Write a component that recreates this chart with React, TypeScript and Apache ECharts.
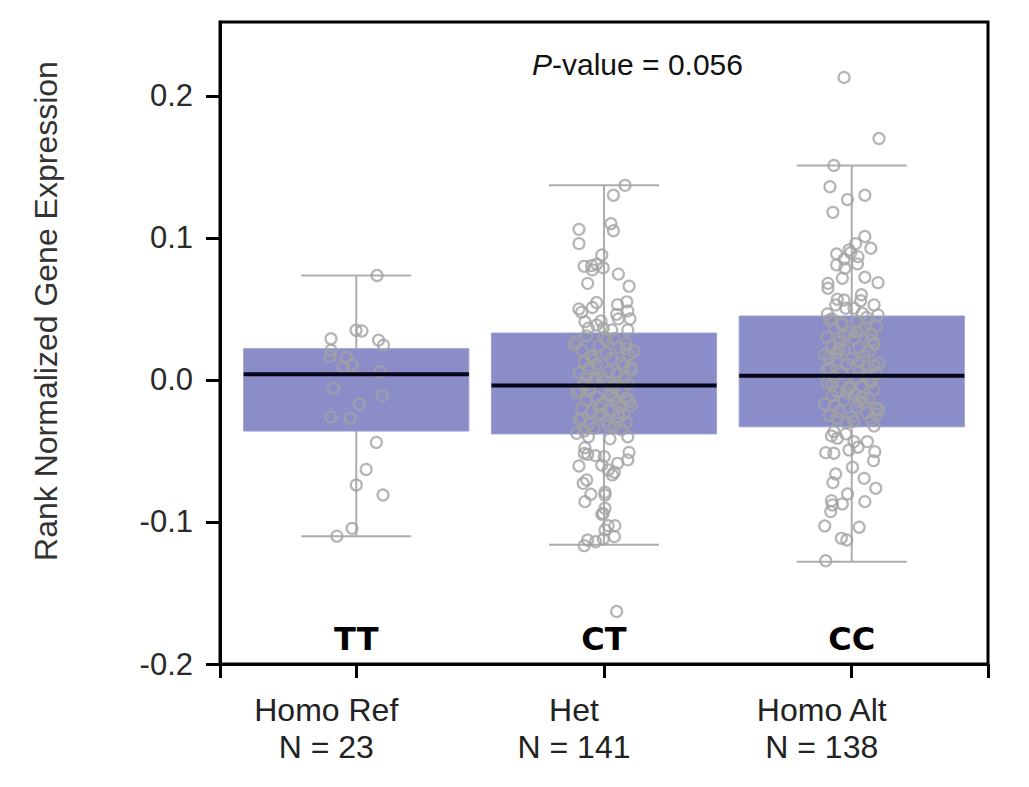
import React, { useEffect, useRef } from 'react';
import * as echarts from 'echarts';

// ---- data ----
const categories = ['Homo Ref', 'Het', 'Homo Alt'];
const counts = [23, 141, 138];
const genotypes = ['TT', 'CT', 'CC'];
const yTicks = [-0.2, -0.1, 0, 0.1, 0.2];
const pValueText = '0.056';

const whiskerLow = [-0.110, -0.116, -0.128];
const q1 = [-0.036, -0.038, -0.033];
const median = [0.004, -0.004, 0.003];
const q3 = [0.022, 0.033, 0.045];
const whiskerHigh = [0.0735, 0.137, 0.151];

const homoRefValues = [
  0.0735, 0.035, 0.0345, 0.029, 0.028, 0.0245, 0.021, 0.0165, 0.016, 0.0105, 0.006, -0.006,
  -0.011, -0.017, -0.026, -0.027, -0.044, -0.063, -0.074, -0.081, -0.1045, -0.110, 0.009,
];
const homoRefJitter = [
  0.084, -0.001, 0.023, -0.102, 0.090, 0.110, -0.102, -0.105, -0.040, -0.017, 0.097, -0.092,
  0.104, 0.012, -0.102, -0.024, 0.081, 0.040, 0.000, 0.108, -0.017, -0.078, -0.053,
];

const hetValues = [
  0.137, 0.130, 0.110, 0.105, 0.106, 0.096, 0.088, 0.080, 0.0805, 0.0815, 0.079, 0.0775, 0.0745,
  0.068, 0.066, 0.0545, 0.055, 0.053, 0.050, 0.0477, 0.051, 0.0486, 0.0462, 0.043, 0.041, 0.0415,
  0.043, 0.0387, 0.0364, 0.0352, 0.0352, 0.0364,
  -0.0376, -0.040, -0.0415, -0.040, -0.0477, -0.0517, -0.0524, -0.0533, -0.054, -0.051, -0.0563,
  -0.0587, -0.060, -0.0606, -0.0634, -0.065, -0.0669, -0.0704, -0.0728, -0.0791, -0.0805, -0.081,
  -0.0857, -0.0904, -0.094, -0.0946, -0.1026, -0.1026, -0.1056, -0.1103, -0.112, -0.1127, -0.1167,
  -0.1139, -0.163,
  0.031, 0.029, 0.027, 0.026, 0.024, 0.023, 0.021, 0.019, 0.018, 0.017, 0.015, 0.013, 0.012, 0.011,
  0.009, 0.008, 0.006, 0.005, 0.004, 0.002, 0.001, 0.000, -0.001, -0.003, -0.004, -0.005, -0.006,
  -0.008, -0.009, -0.010, -0.012, -0.013, -0.014, -0.016, -0.017, -0.018, -0.020, -0.021, -0.022,
  -0.024, -0.025, -0.026, -0.028, -0.029, -0.030, -0.031, -0.033, -0.034, -0.035, -0.036, 0.030,
  0.025, 0.020, 0.014, 0.010, 0.003, -0.002, -0.007, -0.011, -0.015, -0.019, -0.023, -0.027, -0.032,
  0.016, 0.007, -0.003, -0.013, -0.024, 0.022, -0.008, 0.028, -0.018, 0.001,
];
const hetJitter = [
  0.085, 0.038, 0.028, 0.038, -0.101, -0.101, -0.009, -0.080, -0.050, -0.030, -0.003, -0.047, 0.058,
  -0.066, 0.101, -0.030, 0.092, 0.055, -0.101, -0.090, -0.047, 0.096, 0.051, 0.105, -0.077, -0.012,
  0.058, -0.030, -0.063, 0.096, 0.031, -0.003,
  -0.110, -0.063, 0.024, 0.096, -0.077, -0.080, -0.066, -0.034, 0.001, 0.101, 0.096, 0.055, -0.009,
  -0.101, 0.017, 0.042, 0.034, -0.070, -0.084, 0.004, -0.053, 0.004, -0.077, 0.004, -0.003, -0.009,
  0.017, 0.044, 0.004, 0.042, -0.003, -0.066, -0.080, -0.034, 0.051,
  -0.07, 0.04, -0.11, 0.09, -0.02, 0.06, -0.09, 0.01, 0.10, -0.05, 0.03, -0.08, 0.07, -0.03, 0.11,
  -0.06, 0.02, -0.10, 0.05, -0.01, 0.08, -0.04, 0.00, 0.10, -0.08, 0.04, -0.06, 0.07, -0.11, 0.02,
  -0.03, 0.09, -0.07, 0.05, -0.01, 0.11, -0.09, 0.03, -0.05, 0.08, -0.02, 0.06, -0.10, 0.01, 0.09,
  -0.06, 0.04, -0.04, 0.07, -0.08, 0.00, -0.12, 0.12, -0.04, 0.08, -0.07, 0.05, -0.10, 0.03, 0.10,
  -0.02, 0.06, -0.09, 0.02, -0.05, 0.11, -0.08, 0.04, -0.01, 0.09, -0.06, 0.01, 0.07, -0.03,
];

const homoAltValues = [
  0.213, 0.170, 0.151, 0.136, 0.127, 0.130, 0.118, 0.101, 0.096, 0.0915, 0.0927, 0.0887, 0.0896,
  0.0868, 0.085, 0.081, 0.0817, 0.0786, 0.0716, 0.0723, 0.0685, 0.068, 0.0646, 0.060, 0.0568,
  0.0563, 0.0558, 0.0528, 0.0528, 0.0505, 0.0505, 0.0465, 0.0469, 0.0458,
  -0.0324, -0.0364, -0.0394, -0.041, -0.038, -0.0434, -0.0434, -0.0512, -0.0516, -0.0493, -0.0474,
  -0.0505, -0.0568, -0.0615, -0.0662, -0.0723, -0.0693, -0.0763, -0.0803, -0.085, -0.088, -0.0873,
  -0.0857, -0.0927, -0.1028, -0.1037, -0.1115, -0.1127, -0.1273,
  0.044, 0.042, 0.041, 0.039, 0.038, 0.036, 0.035, 0.033, 0.032, 0.030, 0.029, 0.027, 0.026, 0.024,
  0.023, 0.021, 0.020, 0.018, 0.017, 0.015, 0.014, 0.012, 0.011, 0.009, 0.008, 0.006, 0.005, 0.004,
  0.002, 0.001, -0.001, -0.002, -0.004, -0.005, -0.007, -0.008, -0.010, -0.011, -0.013, -0.014,
  -0.016, -0.017, -0.019, -0.020, -0.022, -0.023, -0.025, -0.026, -0.028, -0.030, 0.043, 0.037,
  0.031, 0.025, 0.019, 0.013, 0.007, 0.000, -0.006, -0.012, -0.018, -0.024, -0.029, 0.040, 0.028,
  0.016, 0.003, -0.009, -0.021, 0.034, 0.022, 0.010, -0.003, -0.015, -0.027,
];
const homoAltJitter = [
  -0.031, 0.110, -0.072, -0.088, -0.017, 0.053, -0.076, 0.053, 0.016, -0.011, 0.077, -0.061, -0.004,
  0.025, -0.031, -0.061, 0.023, -0.028, -0.038, 0.053, 0.106, -0.096, -0.096, 0.039, -0.058, -0.031,
  0.036, -0.065, 0.090, 0.009, -0.024, -0.098, 0.043, 0.106,
  0.090, -0.072, -0.082, -0.058, -0.024, 0.009, 0.063, -0.105, -0.072, -0.011, 0.025, 0.093, 0.088,
  0.003, -0.065, -0.076, 0.050, 0.097, -0.017, -0.082, -0.078, -0.038, 0.053, -0.085, -0.109, 0.030,
  -0.042, -0.020, -0.105,
  0.06, -0.09, 0.02, -0.04, 0.10, -0.07, 0.04, -0.01, 0.08, -0.10, 0.01, -0.05, 0.09, -0.08, 0.03,
  -0.03, 0.07, -0.11, 0.05, 0.00, -0.06, 0.11, -0.02, 0.06, -0.09, 0.03, -0.04, 0.10, -0.07, 0.02,
  0.08, -0.10, 0.04, -0.01, 0.09, -0.06, 0.01, -0.08, 0.07, -0.03, 0.05, -0.11, 0.02, 0.10, -0.05,
  0.06, -0.09, 0.00, 0.08, -0.02, -0.08, 0.05, -0.03, 0.09, -0.06, 0.03, -0.10, 0.07, -0.01, 0.04,
  -0.07, 0.10, 0.01, -0.04, 0.08, -0.09, 0.06, -0.02, 0.11, 0.02, -0.05, 0.09, -0.08, 0.03, -0.06,
];

// ---- styling constants ----
const FONT = '"Liberation Sans", Arial, sans-serif';
const BOX_WIDTH = 0.909; // in x-axis units
const CAP_WIDTH = 0.444;
const WHISKER_COLOR = '#adadad';
const BOX_COLOR = '#8a8dc8';
const POINT_COLOR = '#a3a3a3';

const groups = [
  { values: homoRefValues, jitter: homoRefJitter },
  { values: hetValues, jitter: hetJitter },
  { values: homoAltValues, jitter: homoAltJitter },
];

function buildOption(): any {
  const boxData = categories.map((_, i) => [i, whiskerLow[i], q1[i], median[i], q3[i], whiskerHigh[i]]);
  const pointData: number[][] = [];
  groups.forEach((g, gi) => {
    g.values.forEach((v, k) => pointData.push([gi + g.jitter[k], v]));
  });

  const lineStyle = { stroke: WHISKER_COLOR, lineWidth: 2 };

  return {
    animation: false,
    backgroundColor: '#ffffff',
    textStyle: { fontFamily: FONT },
    title: {
      text: '{i|P}-value = ' + pValueText,
      left: 527,
      top: 44,
      textStyle: {
        fontFamily: FONT,
        fontSize: 30,
        fontWeight: 'normal',
        color: '#111111',
        rich: {
          i: { fontFamily: FONT, fontSize: 30, fontStyle: 'italic', color: '#111111' },
        },
      },
    },
    grid: {
      left: 220,
      right: 41,
      top: 22,
      bottom: 123,
      show: true,
      borderColor: '#000000',
      borderWidth: 3,
      backgroundColor: 'transparent',
    },
    xAxis: {
      type: 'value',
      min: -0.55,
      max: 2.55,
      splitLine: { show: false },
      axisLine: { show: true, onZero: false, lineStyle: { color: '#000000', width: 3 } },
      axisTick: {
        show: true,
        customValues: [-0.55, 0, 1, 2, 2.55],
        length: 14,
        lineStyle: { color: '#000000', width: 3 },
      },
      axisLabel: {
        customValues: [0, 1, 2],
        formatter: (v: number) => `${categories[Math.round(v)]}\nN = ${counts[Math.round(v)]}`,
        fontFamily: FONT,
        fontSize: 32,
        lineHeight: 37,
        color: '#222222',
        margin: 27,
        padding: [0, 60, 0, 0],
      },
    },
    yAxis: {
      type: 'value',
      min: -0.2,
      max: 0.252,
      interval: 0.1,
      splitLine: { show: false },
      axisLine: { show: true, onZero: false, lineStyle: { color: '#000000', width: 3 } },
      axisTick: {
        show: true,
        customValues: yTicks,
        length: 14,
        lineStyle: { color: '#000000', width: 3 },
      },
      axisLabel: {
        customValues: yTicks,
        formatter: (v: number) => v.toFixed(1),
        fontFamily: FONT,
        fontSize: 31,
        color: '#2a2a2a',
        margin: 27,
      },
    },
    graphic: [
      {
        type: 'text',
        x: 46,
        y: 311,
        rotation: Math.PI / 2,
        style: {
          text: 'Rank Normalized Gene Expression',
          fontFamily: FONT,
          fontSize: 32,
          fill: '#333333',
          align: 'center',
          verticalAlign: 'middle',
        },
      },
    ],
    series: [
      {
        type: 'custom',
        name: 'boxes',
        z: 2,
        data: boxData,
        renderItem: (_params: any, api: any) => {
          const x = api.value(0);
          const lo = api.coord([x, api.value(1)]);
          const b1 = api.coord([x, api.value(2)]);
          const b3 = api.coord([x, api.value(4)]);
          const hi = api.coord([x, api.value(5)]);
          const boxW = api.size([BOX_WIDTH, 0])[0];
          const capW = api.size([CAP_WIDTH, 0])[0];
          const cx = lo[0];
          return {
            type: 'group',
            children: [
              { type: 'line', shape: { x1: cx, y1: hi[1], x2: cx, y2: b3[1] }, style: lineStyle },
              { type: 'line', shape: { x1: cx, y1: b1[1], x2: cx, y2: lo[1] }, style: lineStyle },
              { type: 'line', shape: { x1: cx - capW / 2, y1: hi[1], x2: cx + capW / 2, y2: hi[1] }, style: lineStyle },
              { type: 'line', shape: { x1: cx - capW / 2, y1: lo[1], x2: cx + capW / 2, y2: lo[1] }, style: lineStyle },
              {
                type: 'rect',
                shape: { x: cx - boxW / 2, y: b3[1], width: boxW, height: b1[1] - b3[1] },
                style: { fill: BOX_COLOR, stroke: '#9c9fd2', lineWidth: 1 },
              },
            ],
          };
        },
      },
      {
        type: 'scatter',
        name: 'points',
        z: 3,
        data: pointData,
        symbol: 'circle',
        symbolSize: 11,
        itemStyle: { color: 'rgba(0,0,0,0)', borderColor: POINT_COLOR, borderWidth: 2.2 },
        silent: true,
      },
      {
        type: 'custom',
        name: 'medians',
        z: 4,
        data: boxData,
        renderItem: (_params: any, api: any) => {
          const x = api.value(0);
          const m = api.coord([x, api.value(3)]);
          const boxW = api.size([BOX_WIDTH, 0])[0];
          return {
            type: 'line',
            shape: { x1: m[0] - boxW / 2, y1: m[1], x2: m[0] + boxW / 2, y2: m[1] },
            style: { stroke: '#06061a', lineWidth: 4 },
          };
        },
      },
      {
        type: 'custom',
        name: 'genotypes',
        z: 5,
        data: genotypes.map((_, i) => [i, -0.2]),
        renderItem: (params: any, api: any) => {
          const p = api.coord([api.value(0), api.value(1)]);
          return {
            type: 'text',
            x: p[0],
            y: p[1] - 9,
            style: {
              text: genotypes[params.dataIndex],
              fontFamily: '"DejaVu Sans", sans-serif',
              fontWeight: 'bold',
              fontSize: 32,
              fill: '#000000',
              align: 'center',
              verticalAlign: 'bottom',
            },
          };
        },
      },
    ],
  };
}

export default function App() {
  const ref = useRef<HTMLDivElement>(null);
  useEffect(() => {
    if (!ref.current) return;
    const chart = echarts.init(ref.current, null, { renderer: 'svg' });
    chart.setOption(buildOption());
    return () => chart.dispose();
  }, []);
  return (
    <div
      ref={ref}
      style={{ position: 'fixed', left: 0, top: 0, width: 1029, height: 787, background: '#ffffff' }}
    />
  );
}
